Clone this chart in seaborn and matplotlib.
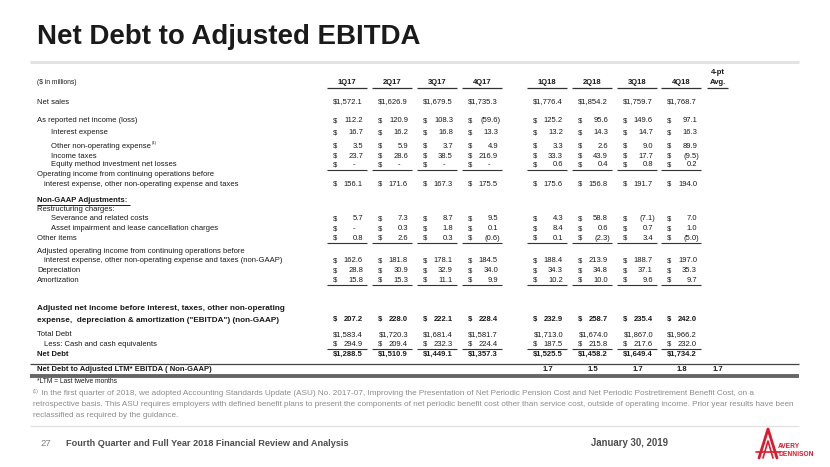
import matplotlib
matplotlib.use("Agg")
import matplotlib.pyplot as plt
import seaborn as sns
from matplotlib import font_manager

sns.set_theme(style="white")
plt.rcParams['font.family'] = ['Liberation Sans', 'DejaVu Sans']

names = {f.name for f in font_manager.fontManager.ttflist}
NARROW = 'Liberation Sans Narrow' if 'Liberation Sans Narrow' in names else 'Liberation Sans'

# ---------------- data ----------------
quarters = ['1Q17', '2Q17', '3Q17', '4Q17', '1Q18', '2Q18', '3Q18', '4Q18']
net_sales = [1572.1, 1626.9, 1679.5, 1735.3, 1776.4, 1854.2, 1759.7, 1768.7]
net_income = [112.2, 120.9, 108.3, -59.6, 125.2, 95.6, 149.6, 97.1]
interest_expense = [16.7, 16.2, 16.8, 13.3, 13.2, 14.3, 14.7, 16.3]
other_nonop = [3.5, 5.9, 3.7, 4.9, 3.3, 2.6, 9.0, 89.9]
income_taxes = [23.7, 28.6, 38.5, 216.9, 33.3, 43.9, 17.7, -9.5]
equity_losses = [0.0, 0.0, 0.0, 0.0, 0.6, 0.4, 0.8, 0.2]
op_income = [156.1, 171.6, 167.3, 175.5, 175.6, 156.8, 191.7, 194.0]
severance = [5.7, 7.3, 8.7, 9.5, 4.3, 58.8, -7.1, 7.0]
asset_impairment = [0.0, 0.3, 1.8, 0.1, 8.4, 0.6, 0.7, 1.0]
other_items = [0.8, 2.6, 0.3, -0.6, 0.1, -2.3, 3.4, -5.0]
adj_op_income = [162.6, 181.8, 178.1, 184.5, 188.4, 213.9, 188.7, 197.0]
depreciation = [28.8, 30.9, 32.9, 34.0, 34.3, 34.8, 37.1, 35.3]
amortization = [15.8, 15.3, 11.1, 9.9, 10.2, 10.0, 9.6, 9.7]
adj_ebitda = [207.2, 228.0, 222.1, 228.4, 232.9, 258.7, 235.4, 242.0]
total_debt = [1583.4, 1720.3, 1681.4, 1581.7, 1713.0, 1674.0, 1867.0, 1966.2]
cash = [294.9, 209.4, 232.3, 224.4, 187.5, 215.8, 217.6, 232.0]
net_debt = [1288.5, 1510.9, 1449.1, 1357.3, 1525.5, 1458.2, 1649.4, 1734.2]
leverage = [None, None, None, None, 1.7, 1.5, 1.7, 1.8]
leverage_avg = 1.7

title = "Net Debt to Adjusted EBITDA"
footnote = [
    " In the first quarter of 2018, we adopted Accounting Standards Update (ASU) No. 2017-07, Improving the Presentation of Net Periodic Pension Cost and Net Periodic Postretirement Benefit Cost, on a",
    "retrospective basis. This ASU requires employers with defined benefit plans to present the components of net periodic benefit cost other than service cost, outside of operating income. Prior year results have been",
    "reclassified as required by the guidance.",
]

# ---------------- figure ----------------
fig = plt.figure(figsize=(8.3, 4.67), dpi=100)
ax = fig.add_axes([0, 0, 1, 1])
ax.set_xlim(0, 830)
ax.set_ylim(467, 0)
ax.axis('off')

TXT = '#1a1a1a'
FS = 5.5
col_left = [327, 372, 417, 462, 527, 572, 617, 661]
COLW = 40
AVG_L = 707


def fmt(v):
    if v < 0:
        return f"({abs(v):,.1f})"
    return f"{v:,.1f}"


def hline(x0, x1, y, lw=0.8, color='#333333'):
    ax.plot([x0, x1], [y, y], color=color, lw=lw, solid_capstyle='butt')


def value_row(vals, y, style='sep', bold=False):
    w = 'bold' if bold else 'normal'
    for L, v in zip(col_left, vals):
        if style == 'attached':
            ax.text(L + 36, y, '$' + fmt(v), ha='right', va='center', fontsize=FS,
                    color=TXT, fontweight=w)
            continue
        ax.text(L + 6, y, '$', ha='left', va='center', fontsize=FS, color=TXT, fontweight=w)
        if v == 0:
            ax.text(L + 27, y, '-', ha='center', va='center', fontsize=FS, color=TXT, fontweight=w)
        elif v < 0:
            ax.text(L + 38.5, y, fmt(v), ha='right', va='center', fontsize=FS, color=TXT, fontweight=w)
        else:
            ax.text(L + 36, y, fmt(v), ha='right', va='center', fontsize=FS, color=TXT, fontweight=w)


def under(y):
    for L in col_left:
        hline(L, L + COLW, y)


def label(x, y, s, bold=False, size=FS):
    return ax.text(x, y, s, ha='left', va='center', fontsize=size, color=TXT,
                   fontweight='bold' if bold else 'normal')


# title
ax.text(37, 37, title, ha='left', va='center', fontsize=19.9, fontweight='bold', color='#1a1a1a')
hline(30, 799, 62, lw=2.2, color='#e3e3e3')

# header
label(37, 83, '($ in millions)', size=4.8)
for L, q in zip(col_left, quarters):
    ax.text(L + COLW / 2, 83, q, ha='center', va='center', fontsize=FS, fontweight='bold', color=TXT)
    hline(L, L + COLW, 87.5, lw=0.9)
ax.text(AVG_L + 11, 72, '4-pt', ha='center', va='center', fontsize=FS, fontweight='bold', color=TXT)
ax.text(AVG_L + 11, 83, 'Avg.', ha='center', va='center', fontsize=FS, fontweight='bold', color=TXT)
hline(AVG_L, AVG_L + 21, 87.5, lw=0.9)

# body
label(37, 102, 'Net sales')
value_row(net_sales, 102, style='attached')

label(37, 121, 'As reported net income (loss)')
value_row(net_income, 121)

label(51, 133, 'Interest expense')
value_row(interest_expense, 133)

other_lbl = label(51, 146, 'Other non-operating expense')
fig.canvas.draw()
bb = other_lbl.get_window_extent(renderer=fig.canvas.get_renderer())
sup_x = ax.transData.inverted().transform((bb.x1, bb.y1))[0] + 0.8
ax.text(sup_x, 143.0, '(1)', ha='left', va='center', fontsize=3.0, color=TXT)
value_row(other_nonop, 146)

label(51, 156, 'Income taxes')
value_row(income_taxes, 156)

label(51, 165, 'Equity method investment net losses')
value_row(equity_losses, 165)
under(169.5)

label(37, 175, 'Operating income from continuing operations before')
label(44, 184, 'interest expense, other non-operating expense and taxes')
value_row(op_income, 184)

label(37, 200, 'Non-GAAP Adjustments:', bold=True)
hline(37, 130, 204.5, lw=0.7, color=TXT)
label(37, 209.5, 'Restructuring charges:')
label(51, 219, 'Severance and related costs')
value_row(severance, 219)
label(51, 229, 'Asset impairment and lease cancellation charges')
value_row(asset_impairment, 229)
label(37, 238.5, 'Other items')
value_row(other_items, 238.5)
under(243)

label(37, 251.5, 'Adjusted operating income from continuing operations before')
label(44, 261, 'interest expense, other non-operating expense and taxes (non-GAAP)')
value_row(adj_op_income, 261)
label(37, 271, 'Depreciation')
value_row(depreciation, 271)
label(37, 280.5, 'Amortization')
value_row(amortization, 280.5)
under(284.5)

label(37, 309, 'Adjusted net income before interest, taxes, other non-operating', bold=True, size=5.9)
label(37, 320, 'expense,  depreciation & amortization ("EBITDA") (non-GAAP)', bold=True, size=5.9)
value_row(adj_ebitda, 319.5, bold=True)

label(37, 335, 'Total Debt')
value_row(total_debt, 335, style='attached')
label(44, 344.5, 'Less: Cash and cash equivalents')
value_row(cash, 344.5)
under(348.5)
label(37, 354, 'Net Debt', bold=True)
value_row(net_debt, 354, style='attached', bold=True)

hline(30, 799, 364, lw=0.9, color='#444444')
label(37, 369.5, 'Net Debt to Adjusted LTM* EBITDA ( Non-GAAP)', bold=True)
for L, v in zip(col_left, leverage):
    if v is not None:
        ax.text(L + 21, 369.5, f"{v:.1f}", ha='center', va='center', fontsize=FS,
                fontweight='bold', color=TXT)
ax.text(AVG_L + 11, 369.5, f"{leverage_avg:.1f}", ha='center', va='center', fontsize=FS,
        fontweight='bold', color=TXT)
hline(30, 799, 375.5, lw=2.8, color='#666666')
label(37, 381.5, '*LTM = Last twelve months', size=4.8)

# footnote
FNC = '#8c8c8c'
FNS = 5.9
ax.text(33, 391.5, '(1)', ha='left', va='center', fontsize=3.4, color=FNC, family=NARROW)
ax.text(39, 393.5, footnote[0], ha='left', va='center', fontsize=FNS, color=FNC, family=NARROW)
ax.text(33, 404.5, footnote[1], ha='left', va='center', fontsize=FNS, color=FNC, family=NARROW)
ax.text(33, 415.5, footnote[2], ha='left', va='center', fontsize=FNS, color=FNC, family=NARROW)
hline(30, 799, 426, lw=1.0, color='#e3e3e3')

# footer
ax.text(40, 443, '27', ha='left', va='center', fontsize=6.8, color='#7f7f7f', family=NARROW)
ax.text(66, 443, 'Fourth Quarter and Full Year 2018 Financial Review and Analysis', ha='left',
        va='center', fontsize=6.6, color='#4d4d4d', fontweight='bold', family=NARROW)
ax.text(591, 443, 'January 30, 2019', ha='left', va='center', fontsize=6.9, color='#4d4d4d',
        fontweight='bold', family=NARROW)

# logo
RED = '#e0182d'
ax.plot([759, 768, 777], [458, 429, 458], color=RED, lw=2.0)
ax.plot([763, 768, 773], [458, 441, 458], color=RED, lw=1.2)
ax.plot([756, 780], [452, 452], color=RED, lw=1.2)
ax.text(778, 446, 'AVERY', ha='left', va='center', fontsize=4.8, color=RED, fontweight='bold', family=NARROW)
ax.text(778, 454, 'DENNISON', ha='left', va='center', fontsize=4.8, color=RED, fontweight='bold', family=NARROW)

fig.savefig('out.png', dpi=100, facecolor='white')
